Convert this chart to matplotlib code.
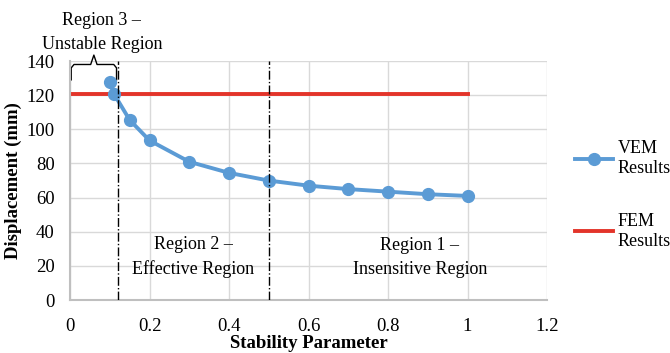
import numpy as np
import matplotlib.pyplot as plt

plt.rcParams['font.family'] = ['Liberation Serif', 'DejaVu Serif']

# data
stab = [0.1, 0.11, 0.15, 0.2, 0.3, 0.4, 0.5, 0.6, 0.7, 0.8, 0.9, 1.0]
vem = [128, 121, 105.5, 93.5, 81, 74.5, 70, 67, 65, 63.5, 62, 61]
fem_x = [0, 1.0]
fem_y = [121, 121]
region_bounds = [0.12, 0.5]

fig = plt.figure(figsize=(6.7, 3.53), dpi=100)
ax = fig.add_axes([0.1045, 0.150, 0.712, 0.677])

ax.plot(stab, vem, color='#5B9BD5', lw=2.8, marker='o', ms=8.5, label='VEM\nResults', zorder=3)
ax.plot(fem_x, fem_y, color='#E3342A', lw=2.8, label='FEM\nResults', zorder=2)

for xb in region_bounds:
    ax.axvline(xb, color='black', lw=1, ls='-.', zorder=4)

ax.set_xlim(0, 1.2)
ax.set_ylim(0, 140)
ax.set_xticks(np.arange(0, 1.21, 0.2))
ax.set_xticklabels(['0', '0.2', '0.4', '0.6', '0.8', '1', '1.2'])
ax.set_yticks(np.arange(0, 141, 20))
ax.grid(True, color='#D9D9D9', lw=1)
ax.set_axisbelow(True)
for s in ['top', 'right']:
    ax.spines[s].set_visible(False)
for s in ['left', 'bottom']:
    ax.spines[s].set_color('#BFBFBF')
    ax.spines[s].set_linewidth(1.5)
ax.tick_params(axis='x', length=0, labelsize=13.5, pad=13)
ax.tick_params(axis='y', length=0, labelsize=13.5, pad=11)
ax.set_xlabel('Stability Parameter', fontsize=13.5, fontweight='bold', labelpad=0)
ax.set_ylabel('Displacement (mm)', fontsize=13.5, fontweight='bold', labelpad=3)

# region labels
ax.text(0.31, 25, 'Region 2 –\nEffective Region', ha='center', va='center',
        fontsize=13, linespacing=1.5)
ax.text(0.88, 25, 'Region 1 –\nInsensitive Region', ha='center', va='center',
        fontsize=13, linespacing=1.5)

# brace for region 3
bx = [0.003, 0.003, 0.01, 0.052, 0.06, 0.068, 0.11, 0.117, 0.117]
by = [129, 136, 138, 138, 143.5, 138, 138, 136, 129]
ax.plot(bx, by, color='black', lw=1, clip_on=False)
ax.text(0.08, 145, 'Region 3 –\nUnstable Region', ha='center', va='bottom',
        fontsize=13, linespacing=1.5)

leg = ax.legend(loc='center left', bbox_to_anchor=(1.059, 0.44), frameon=False,
                fontsize=13, labelspacing=2.0, handlelength=2.1, handletextpad=0.25,
                borderaxespad=0, borderpad=0)

fig.savefig('out.png', dpi=100)
